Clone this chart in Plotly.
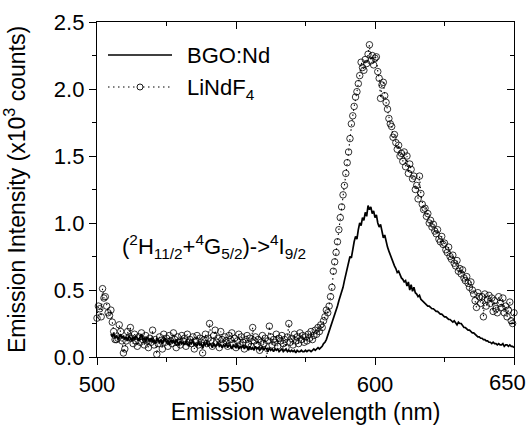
import numpy as np
import plotly.graph_objects as go

# LiNdF4 emission (x10^3 counts), 500.0 .. 650.0 nm, step 0.5 nm
lindf4_start = 500.0
lindf4_step = 0.5
lindf4 = [
    0.29, 0.38, 0.36, 0.30, 0.51, 0.44, 0.45, 0.38, 0.33, 0.31,  # 500
    0.35, 0.26, 0.19, 0.13, 0.13, 0.14, 0.24, 0.19, 0.12, 0.03,  # 505
    0.06, 0.12, 0.19, 0.15, 0.22, 0.14, 0.10, 0.17, 0.12, 0.08,  # 510
    0.15, 0.11, 0.18, 0.13, 0.09, 0.16, 0.12, 0.07, 0.14, 0.11,  # 515
    0.20, 0.09, 0.13, 0.02, 0.10, 0.15, 0.12, 0.06, 0.17, 0.11,  # 520
    0.14, 0.08, 0.16, 0.12, 0.10, 0.18, 0.13, 0.07, 0.15, 0.11,  # 525
    0.09, 0.16, 0.12, 0.14, 0.08, 0.17, 0.11, 0.13, 0.10, 0.15,  # 530
    0.06, 0.12, 0.16, 0.09, 0.14, 0.11, 0.03, 0.13, 0.17, 0.10,  # 535
    0.14, 0.25, 0.12, 0.08, 0.16, 0.20, 0.11, 0.14, 0.07, 0.19,  # 540
    0.13, 0.10, 0.15, 0.12, 0.08, 0.16, 0.13, 0.18, 0.10, 0.14,  # 545
    0.07, 0.12, 0.17, 0.09, 0.15, 0.11, 0.06, 0.13, 0.16, 0.10,  # 550
    0.14, 0.08, 0.22, 0.12, 0.15, 0.09, 0.13, 0.05, 0.11, 0.16,  # 555
    0.10, 0.14, -0.02, 0.12, 0.23, 0.15, 0.09, 0.13, 0.11, 0.17, # 560
    0.08, 0.14, 0.12, 0.16, 0.10, 0.13, 0.07, 0.15, 0.25, 0.11,  # 565
    0.14, 0.09, 0.17, 0.12, 0.15, 0.10, 0.18, 0.13, 0.16, 0.11,  # 570
    0.15, 0.12, 0.17, 0.14, 0.19, 0.13, 0.16, 0.20, 0.17, 0.22,  # 575
    0.19, 0.24, 0.22, 0.27, 0.30, 0.35, 0.33, 0.38, 0.45, 0.52,  # 580
    0.64, 0.71, 0.78, 0.86, 0.95, 1.04, 1.12, 1.21, 1.28, 1.37,  # 585
    1.45, 1.53, 1.63, 1.74, 1.80, 1.87, 1.94, 1.98, 2.04, 2.10,  # 590
    2.20, 2.16, 2.14, 2.22, 2.19, 2.26, 2.33, 2.21, 2.25, 2.18,  # 595
    2.23, 2.24, 2.13, 2.08, 1.93, 2.03, 2.05, 1.95, 1.90, 1.85,  # 600
    1.78, 1.74, 1.72, 1.64, 1.66, 1.60, 1.55, 1.58, 1.50, 1.52,  # 605
    1.46, 1.53, 1.42, 1.50, 1.37, 1.44, 1.40, 1.33, 1.35, 1.25,  # 610
    1.28, 1.18, 1.35, 1.22, 1.14, 1.10, 1.11, 1.05, 1.07, 1.00,  # 615
    1.02, 0.97, 0.99, 0.94, 0.92, 0.95, 0.88, 0.86, 0.90, 0.84,  # 620
    0.85, 0.80, 0.78, 0.82, 0.75, 0.73, 0.76, 0.70, 0.68, 0.72,  # 625
    0.64, 0.66, 0.62, 0.65, 0.59, 0.57, 0.60, 0.55, 0.52, 0.56,  # 630
    0.50, 0.47, 0.42, 0.37, 0.48, 0.45, 0.40, 0.45, 0.30, 0.47,  # 635
    0.38, 0.43, 0.46, 0.40, 0.44, 0.34, 0.42, 0.36, 0.33, 0.45,  # 640
    0.40, 0.37, 0.44, 0.33, 0.38, 0.30, 0.35, 0.41, 0.27, 0.25,  # 645
    0.33,                                                        # 650
]

# BGO:Nd emission (x10^3 counts), 505.0 .. 650.0 nm, step 0.5 nm
bgo_start = 505.0
bgo_step = 0.5
bgo = [
    0.17, 0.15, 0.18, 0.14, 0.16, 0.13, 0.15, 0.17, 0.14, 0.16,  # 505
    0.13, 0.15, 0.12, 0.16, 0.14, 0.12, 0.15, 0.13, 0.16, 0.14,  # 510
    0.12, 0.15, 0.17, 0.13, 0.14, 0.11, 0.15, 0.13, 0.12, 0.14,  # 515
    0.11, 0.13, 0.10, 0.14, 0.12, 0.11, 0.13, 0.10, 0.12, 0.14,  # 520
    0.11, 0.12, 0.09, 0.13, 0.11, 0.12, 0.10, 0.13, 0.11, 0.09,  # 525
    0.12, 0.10, 0.11, 0.09, 0.12, 0.10, 0.08, 0.11, 0.10, 0.12,  # 530
    0.09, 0.10, 0.08, 0.11, 0.09, 0.10, 0.07, 0.10, 0.09, 0.11,  # 535
    0.08, 0.10, 0.09, 0.07, 0.10, 0.08, 0.09, 0.11, 0.08, 0.09,  # 540
    0.07, 0.09, 0.08, 0.10, 0.07, 0.09, 0.08, 0.06, 0.09, 0.08,  # 545
    0.07, 0.09, 0.06, 0.08, 0.07, 0.09, 0.06, 0.08, 0.07, 0.05,  # 550
    0.08, 0.06, 0.07, 0.05, 0.08, 0.06, 0.07, 0.05, 0.06, 0.08,  # 555
    0.05, 0.07, 0.06, 0.04, 0.07, 0.05, 0.06, 0.04, 0.06, 0.05,  # 560
    0.06, 0.04, 0.05, 0.06, 0.04, 0.05, 0.06, 0.04, 0.05, 0.04,  # 565
    0.05, 0.04, 0.05, 0.03, 0.05, 0.04, 0.04, 0.05, 0.04, 0.04,  # 570
    0.05, 0.04, 0.05, 0.05, 0.04, 0.05, 0.06, 0.05, 0.06, 0.07,  # 575
    0.06, 0.07, 0.08, 0.10, 0.11, 0.13, 0.16, 0.19, 0.22, 0.25,  # 580
    0.28, 0.32, 0.35, 0.38, 0.42, 0.45, 0.48, 0.52, 0.57, 0.61,  # 585
    0.66, 0.70, 0.75, 0.74, 0.81, 0.86, 0.90, 0.88, 0.95, 1.00,  # 590
    0.98, 1.04, 1.02, 1.08, 1.05, 1.13, 1.10, 1.12, 1.07, 1.09,  # 595
    1.04, 1.06, 1.00, 0.97, 0.99, 0.93, 0.89, 0.91, 0.85, 0.82,  # 600
    0.79, 0.76, 0.74, 0.70, 0.68, 0.66, 0.63, 0.64, 0.61, 0.59,  # 605
    0.58, 0.56, 0.57, 0.53, 0.56, 0.50, 0.54, 0.49, 0.52, 0.48,  # 610
    0.47, 0.45, 0.46, 0.43, 0.42, 0.41, 0.40, 0.39, 0.38, 0.38,  # 615
    0.37, 0.36, 0.36, 0.35, 0.34, 0.34, 0.33, 0.32, 0.32, 0.31,  # 620
    0.30, 0.30, 0.29, 0.28, 0.28, 0.27, 0.26, 0.27, 0.25, 0.24,  # 625
    0.26, 0.25, 0.25, 0.23, 0.22, 0.22, 0.21, 0.20, 0.20, 0.19,  # 630
    0.18, 0.18, 0.17, 0.16, 0.15, 0.15, 0.14, 0.14, 0.13, 0.13,  # 635
    0.12, 0.12, 0.11, 0.11, 0.10, 0.11, 0.10, 0.10, 0.09, 0.10,  # 640
    0.09, 0.09, 0.10, 0.08, 0.09, 0.09, 0.08, 0.09, 0.08, 0.08,  # 645
    0.07,                                                        # 650
]

series_names = ["BGO:Nd", "LiNdF<sub>4</sub>"]
transition_label = "(<sup>2</sup>H<sub>11/2</sub>+<sup>4</sup>G<sub>5/2</sub>)-><sup>4</sup>I<sub>9/2</sub>"
x_tick_vals = [500, 550, 600, 650]
x_tick_text = ["500", "550", "600", "650"]

x_lindf4 = lindf4_start + lindf4_step * np.arange(len(lindf4))
x_bgo = bgo_start + bgo_step * np.arange(len(bgo))

FONT = "Liberation Sans, Arial, sans-serif"
TICK_FS = 22
TITLE_FS = 23
TEXT_FS = 22
DOT_DASH = "1.5px,3.5px"

fig = go.Figure()
fig.add_trace(go.Scatter(
    x=x_bgo, y=bgo, mode="lines", name=series_names[0],
    line=dict(color="black", width=1.7), cliponaxis=False, showlegend=False,
))
fig.add_trace(go.Scatter(
    x=x_lindf4, y=lindf4, mode="lines+markers", name=series_names[1],
    line=dict(color="black", width=1.1, dash=DOT_DASH),
    marker=dict(symbol="circle-open", size=6.5, color="black", line=dict(width=0.8)),
    cliponaxis=False, showlegend=False,
))
# dummy trace to carry the mirrored (inward-tick) axes
fig.add_trace(go.Scatter(x=[None], y=[None], xaxis="x2", yaxis="y2",
                         showlegend=False, hoverinfo="skip"))

axis_common = dict(color="black", linecolor="black", linewidth=1.3,
                   showgrid=False, zeroline=False, automargin=False,
                   tickfont=dict(family=FONT, size=TICK_FS, color="black"))

fig.update_layout(
    width=530, height=426,
    margin=dict(l=97, r=16, t=22, b=69),
    paper_bgcolor="white", plot_bgcolor="white",
    font=dict(family=FONT, size=TEXT_FS, color="black"),
    showlegend=False,
    xaxis=dict(
        **axis_common, range=[500, 650],
        tickmode="array", tickvals=x_tick_vals,
        # the last label is drawn below as an annotation, pulled inside the page
        ticktext=x_tick_text[:-1] + [""],
        showline=True, mirror=True, ticks="outside", ticklen=7, tickwidth=1.3,
        minor=dict(dtick=25, tick0=500, ticks="outside", ticklen=4, tickwidth=1.3, tickcolor="black"),
        title=dict(text="Emission wavelength (nm)", font=dict(family=FONT, size=TITLE_FS), standoff=8),
    ),
    yaxis=dict(
        **axis_common, range=[0, 2.5], dtick=0.5, tick0=0, tickformat=".1f",
        showline=True, mirror=True, ticks="outside", ticklen=7, tickwidth=1.3,
        minor=dict(dtick=0.25, ticks="outside", ticklen=4, tickwidth=1.3, tickcolor="black"),
        title=dict(text="Emission Intensity (x10<sup>3</sup> counts)", font=dict(family=FONT, size=TITLE_FS), standoff=24),
    ),
    xaxis2=dict(
        overlaying="x", side="top", anchor="y", range=[500, 650], dtick=50, tick0=500,
        showline=False, showgrid=False, zeroline=False, showticklabels=False, automargin=False,
        ticks="inside", ticklen=7, tickwidth=1.3, tickcolor="black",
        minor=dict(dtick=25, ticks="inside", ticklen=4, tickwidth=1.3, tickcolor="black"),
    ),
    yaxis2=dict(
        overlaying="y", side="right", anchor="x", range=[0, 2.5], dtick=0.5, tick0=0,
        showline=False, showgrid=False, zeroline=False, showticklabels=False, automargin=False,
        ticks="inside", ticklen=7, tickwidth=1.3, tickcolor="black",
        minor=dict(dtick=0.25, ticks="inside", ticklen=4, tickwidth=1.3, tickcolor="black"),
    ),
)

# --- helpers: pixel -> paper coordinates of the plot area ---
PW, PH = 530 - 97 - 16, 426 - 22 - 69


def px_x(px):
    return (px - 97) / PW


def px_y(py):
    return (426 - 69 - py) / PH


# last x tick label, kept inside the page as in the original
fig.add_annotation(x=px_x(528), y=px_y(383), xref="paper", yref="paper",
                   xanchor="right", yanchor="middle", showarrow=False,
                   text=x_tick_text[-1], font=dict(family=FONT, size=TICK_FS, color="black"))

# hand-placed legend
fig.add_shape(type="line", xref="paper", yref="paper",
              x0=px_x(108), x1=px_x(172), y0=px_y(55), y1=px_y(55),
              line=dict(color="black", width=1.7))
fig.add_shape(type="line", xref="paper", yref="paper",
              x0=px_x(108), x1=px_x(172), y0=px_y(87), y1=px_y(87),
              line=dict(color="black", width=1.1, dash=DOT_DASH))
fig.add_shape(type="circle", xref="paper", yref="paper",
              x0=px_x(137), x1=px_x(143), y0=px_y(84), y1=px_y(90),
              fillcolor="white", line=dict(color="black", width=0.9))
fig.add_annotation(x=px_x(185), y=px_y(55), xref="paper", yref="paper",
                   xanchor="left", yanchor="middle", showarrow=False,
                   text=series_names[0], font=dict(family=FONT, size=TEXT_FS, color="black"))
fig.add_annotation(x=px_x(185), y=px_y(89), xref="paper", yref="paper",
                   xanchor="left", yanchor="middle", showarrow=False,
                   text=series_names[1], font=dict(family=FONT, size=TEXT_FS, color="black"))

fig.add_annotation(
    x=px_x(120), y=px_y(247), xref="paper", yref="paper", xanchor="left", yanchor="middle",
    text=transition_label, showarrow=False,
    font=dict(family=FONT, size=TEXT_FS, color="black"),
)

fig.write_html("out.html")
